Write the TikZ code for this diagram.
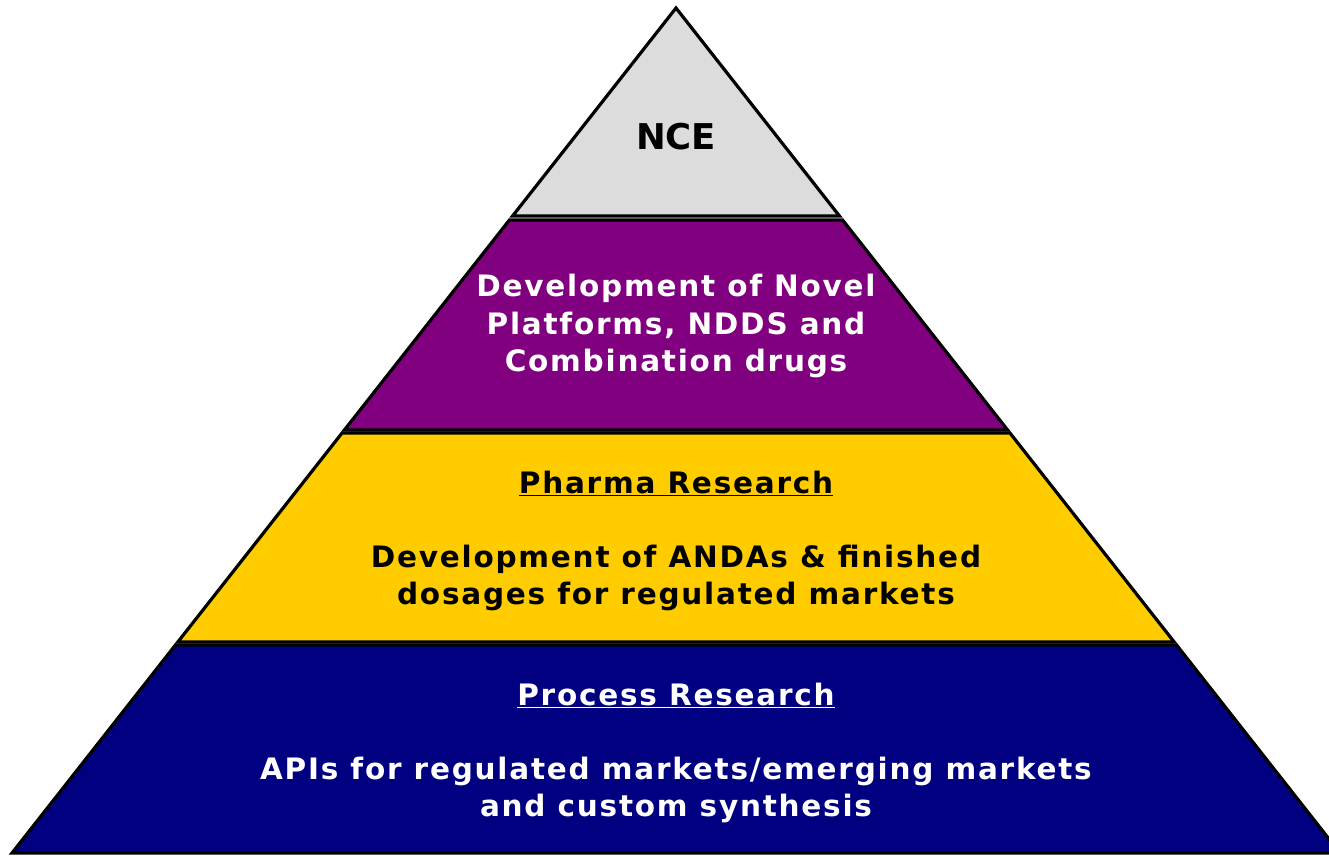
\documentclass[tikz,border=0pt]{standalone}
\usepackage{fontspec}
\setmainfont{DejaVu Sans}
\newfontfamily\widefont[LetterSpace=6]{DejaVu Sans}
\usetikzlibrary{calc}
\definecolor{ncegray}{HTML}{DCDCDC}
\definecolor{layerpurple}{HTML}{800080}
\definecolor{layeryellow}{HTML}{FFCC00}
\definecolor{layernavy}{HTML}{000080}
\begin{document}
\begin{tikzpicture}[x=1pt,y=-1pt,
  layer/.style={draw=black,line width=3.2pt,line join=miter},
  lbl/.style={font=\widefont\bfseries\fontsize{29.5}{37.5}\selectfont,align=center,inner sep=0pt},
  ttl/.style={font=\bfseries\fontsize{35.5}{42}\selectfont,inner sep=0pt}]
\useasboundingbox (0,0) rectangle (1329,855);
\coordinate (apex) at (676,8);
\coordinate (bl) at (12,853);
\coordinate (br) at (1340,853);
% layer 1: NCE
\draw[layer,fill=ncegray] (apex) -- ($(apex)!0.2462!(bl)$) -- ($(apex)!0.2462!(br)$) -- cycle;
% layer 2: purple
\draw[layer,fill=layerpurple] ($(apex)!0.2509!(bl)$) -- ($(apex)!0.4994!(bl)$) -- ($(apex)!0.4994!(br)$) -- ($(apex)!0.2509!(br)$) -- cycle;
% layer 3: yellow
\draw[layer,fill=layeryellow] ($(apex)!0.5030!(bl)$) -- ($(apex)!0.7503!(bl)$) -- ($(apex)!0.7503!(br)$) -- ($(apex)!0.5030!(br)$) -- cycle;
% layer 4: navy
\draw[layer,fill=layernavy] ($(apex)!0.7538!(bl)$) -- (bl) -- (br) -- ($(apex)!0.7538!(br)$) -- cycle;
% texts
\node[ttl] (nce) at (676,137) {NCE};
\node[lbl,text=white] (novel) at (676,326) {Development of Novel\\Platforms, NDDS and\\Combination drugs};
\node[lbl] (pharma) at (676,483) {\underline{Pharma Research}};
\node[lbl] (anda) at (676,578) {Development of ANDAs \& finished\\dosages for regulated markets};
\node[lbl,text=white] (process) at (676,695) {\underline{Process Research}};
\node[lbl,text=white] (api) at (676,790) {APIs for regulated markets/emerging markets\\and custom synthesis};
\end{tikzpicture}
\end{document}
